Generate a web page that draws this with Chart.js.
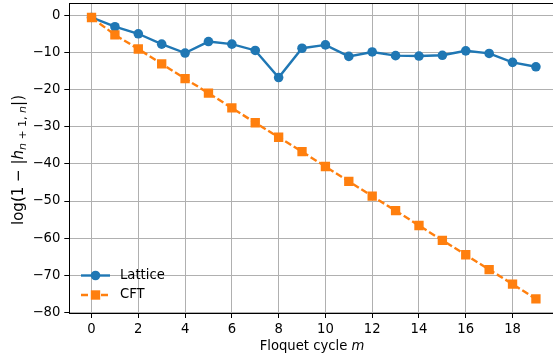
<!DOCTYPE html>
<html>
<head>
<meta charset="utf-8">
<script src="https://cdn.jsdelivr.net/npm/chart.js@4.4.1/dist/chart.umd.min.js"></script>
<style>
  html, body { margin: 0; padding: 0; background: #fff; overflow: hidden; }
  #wrap { width: 553px; height: 360px; }
</style>
</head>
<body>
<div id="wrap"><canvas id="fidelityChart" width="553" height="360"></canvas></div>
<script>
// Floquet cycles and log-infidelity for both models
const cycles = [0, 1, 2, 3, 4, 5, 6, 7, 8, 9, 10, 11, 12, 13, 14, 15, 16, 17, 18, 19];
const latticeVals = [-0.5, -3.0, -4.9, -7.7, -10.1, -7.0, -7.7, -9.4, -16.7, -8.8,
  -7.9, -11.0, -9.8, -10.8, -10.9, -10.7, -9.5, -10.2, -12.6, -13.8];
const cftVals = [-0.5, -5.2, -9.0, -13.0, -17.0, -20.9, -24.9, -28.9, -32.8, -36.7,
  -40.7, -44.7, -48.7, -52.6, -56.6, -60.6, -64.5, -68.5, -72.4, -76.4];
const xTicks = [0, 2, 4, 6, 8, 10, 12, 14, 16, 18];
const yTicks = [0, -10, -20, -30, -40, -50, -60, -70, -80];

const BLUE = "#1f77b4";
const ORANGE = "#ff7f0e";
const FONT = "DejaVu Sans";
const FS = 13.2;
const YLAB_FS = 15;
const YSUB_FS = 11;

const minus = (v) => String(v).replace("-", "\u2212");
const toPoints = (vals) => cycles.map((c, i) => ({ x: c, y: vals[i] }));

// draws a run of text pieces with their own font / baseline offsets
function drawRuns(ctx, runs, cx, cy) {
  let total = 0;
  runs.forEach((r) => { ctx.font = r.font; r.w = ctx.measureText(r.t).width; total += r.w; });
  let x = cx - total / 2;
  runs.forEach((r) => {
    ctx.font = r.font;
    ctx.fillText(r.t, x, cy + (r.dy || 0));
    x += r.w;
  });
}

// axes keep no extra room for overhanging tick labels
function noPadding(scale) {
  scale.paddingLeft = 0;
  scale.paddingRight = 0;
  scale.paddingTop = 0;
  scale.paddingBottom = 0;
}

const decorations = {
  id: "decorations",
  afterDatasetsDraw(chart) {
    const { ctx, chartArea } = chart;
    ctx.save();
    // top spine
    ctx.strokeStyle = "#000";
    ctx.lineWidth = 1;
    ctx.beginPath();
    ctx.moveTo(chartArea.left, chartArea.top + 0.5);
    ctx.lineTo(chartArea.right, chartArea.top + 0.5);
    ctx.stroke();

    // legend
    const entries = [
      { label: "Lattice", color: BLUE, dash: [], shape: "circle", y: 275.5 },
      { label: "CFT", color: ORANGE, dash: [7, 3], shape: "square", y: 295 },
    ];
    entries.forEach((e) => {
      ctx.strokeStyle = e.color;
      ctx.lineWidth = 2.4;
      ctx.setLineDash(e.dash);
      ctx.beginPath();
      ctx.moveTo(81, e.y);
      ctx.lineTo(110, e.y);
      ctx.stroke();
      ctx.setLineDash([]);
      ctx.fillStyle = e.color;
      ctx.beginPath();
      if (e.shape === "circle") ctx.arc(95.5, e.y, 4.8, 0, Math.PI * 2);
      else ctx.rect(90.8, e.y - 4.7, 9.4, 9.4);
      ctx.fill();
      ctx.fillStyle = "#000";
      ctx.font = FS + "px '" + FONT + "'";
      ctx.textAlign = "left";
      ctx.textBaseline = "middle";
      ctx.fillText(e.label, 120, e.y);
    });

    // axis titles
    ctx.fillStyle = "#000";
    ctx.textAlign = "left";
    ctx.textBaseline = "middle";
    drawRuns(ctx, [
      { t: "Floquet cycle ", font: FS + "px '" + FONT + "'" },
      { t: "m", font: "oblique " + FS + "px '" + FONT + "'" },
    ], 312, 347);

    const reg = YLAB_FS + "px '" + FONT + "'";
    const ita = "oblique " + YLAB_FS + "px '" + FONT + "'";
    const sub = YSUB_FS + "px '" + FONT + "'";
    const subIta = "oblique " + YSUB_FS + "px '" + FONT + "'";
    ctx.translate(19, 160);
    ctx.rotate(-Math.PI / 2);
    drawRuns(ctx, [
      { t: "log(1 \u2212 |", font: reg },
      { t: "h", font: ita },
      { t: "n", font: subIta, dy: 4 },
      { t: " + 1, ", font: sub, dy: 4 },
      { t: "n", font: subIta, dy: 4 },
      { t: "|)", font: reg },
    ], 0, 0);
    ctx.restore();
  },
};

new Chart(document.getElementById("fidelityChart"), {
  type: "line",
  data: {
    datasets: [
      {
        label: "Lattice",
        data: toPoints(latticeVals),
        borderColor: BLUE,
        backgroundColor: BLUE,
        borderWidth: 2.4,
        pointStyle: "circle",
        pointRadius: 4.8,
        pointBorderWidth: 0,
        tension: 0,
        order: 1,
      },
      {
        label: "CFT",
        data: toPoints(cftVals),
        borderColor: ORANGE,
        backgroundColor: ORANGE,
        borderWidth: 2.4,
        borderDash: [7, 3],
        pointStyle: "rect",
        pointRadius: 6.6,
        pointBorderWidth: 0,
        tension: 0,
        order: 0,
      },
    ],
  },
  options: {
    responsive: false,
    animation: false,
    layout: { autoPadding: false, padding: { top: 3, right: 0, left: 0, bottom: 0 } },
    plugins: { legend: { display: false }, tooltip: { enabled: false } },
    scales: {
      x: {
        type: "linear",
        min: -0.95,
        max: 19.73,
        afterBuildTicks: (scale) => { scale.ticks = xTicks.map((v) => ({ value: v })); },
        afterFit: (scale) => { scale.height = 47; noPadding(scale); },
        grid: { color: "#b0b0b0", lineWidth: 1, tickColor: "#000", tickLength: 5 },
        border: { color: "#000", width: 1 },
        ticks: {
          color: "#000",
          padding: 4,
          maxRotation: 0,
          font: { family: FONT, size: FS },
          callback: (v) => minus(v),
        },
      },
      y: {
        type: "linear",
        min: -80.2,
        max: 3.4,
        afterBuildTicks: (scale) => { scale.ticks = yTicks.map((v) => ({ value: v })); },
        afterFit: (scale) => { scale.width = 69.3; noPadding(scale); },
        grid: { color: "#b0b0b0", lineWidth: 1, tickColor: "#000", tickLength: 5 },
        border: { color: "#000", width: 1 },
        ticks: {
          color: "#000",
          padding: 4,
          font: { family: FONT, size: FS },
          callback: (v) => minus(v),
        },
      },
    },
  },
  plugins: [decorations],
});
</script>
</body>
</html>
